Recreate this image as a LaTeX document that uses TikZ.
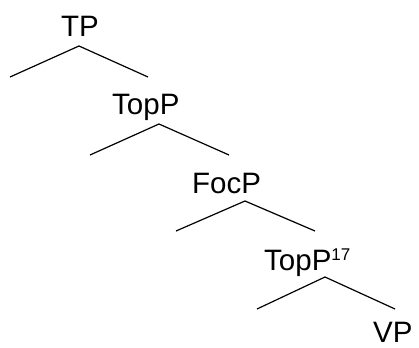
\documentclass[tikz,border=0pt]{standalone}
\usepackage{fontspec}
\setmainfont{Liberation Sans}
\begin{document}
\begin{tikzpicture}[x=1pt,y=-1pt,
  lab/.style={inner sep=0pt,anchor=base west,font=\fontsize{29.5}{31}\selectfont},
  branch/.style={line width=1.2pt,black}]
\useasboundingbox (0,0) rectangle (419,347);
% labels
\node[lab] (tp) at (61,37) {TP};
\node[lab] (top1) at (112,115) {TopP};
\node[lab] (foc) at (192,193) {FocP};
\node[lab] (top2) at (264,270) {TopP\textsuperscript{\fontsize{17}{18}\selectfont 17}};
\node[lab] (vp) at (373,342) {VP};
% branch points
\coordinate (a1) at (79,46);  \coordinate (l1) at (10,77);  \coordinate (r1) at (148,77);
\coordinate (a2) at (159,124); \coordinate (l2) at (90,155); \coordinate (r2) at (229,155);
\coordinate (a3) at (245,201); \coordinate (l3) at (176,231); \coordinate (r3) at (315,231);
\coordinate (a4) at (325,277); \coordinate (l4) at (257,309); \coordinate (r4) at (395,309);
\draw[branch] (l1) -- (a1) -- (r1);
\draw[branch] (l2) -- (a2) -- (r2);
\draw[branch] (l3) -- (a3) -- (r3);
\draw[branch] (l4) -- (a4) -- (r4);
\end{tikzpicture}
\end{document}
